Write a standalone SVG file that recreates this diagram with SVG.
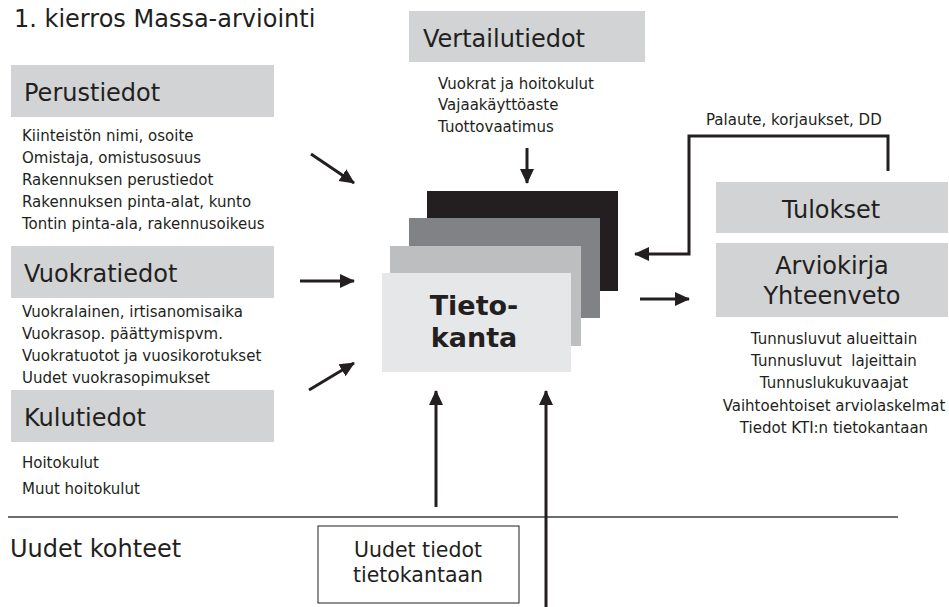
<svg xmlns="http://www.w3.org/2000/svg" width="949" height="607" viewBox="0 0 949 607">
<style>
text{font-family:"DejaVu Sans","Liberation Sans",sans-serif;fill:#231f20}
.h{font-size:24px}
.b{font-size:15px}
.hdr{fill:#d1d3d4}
.c{stroke:#231f20;stroke-width:3;fill:none}
</style>
<defs>
<marker id="ah" markerUnits="userSpaceOnUse" markerWidth="16" markerHeight="16" viewBox="0 0 16 16" refX="14" refY="8" orient="auto">
<path d="M0,1 L15,8 L0,15 Z" fill="#231f20"/>
</marker>
</defs>
<rect width="949" height="607" fill="#fff"/>
<text x="14" y="27" style="font-size:24px">1. kierros Massa-arviointi</text>

<g id="perustiedot">
<rect class="hdr" x="11" y="65" width="263" height="52"/>
<text class="h" x="24" y="101">Perustiedot</text>
<text class="b" x="22" y="141">Kiinteistön nimi, osoite</text>
<text class="b" x="22" y="163">Omistaja, omistusosuus</text>
<text class="b" x="22" y="185">Rakennuksen perustiedot</text>
<text class="b" x="22" y="207">Rakennuksen pinta-alat, kunto</text>
<text class="b" x="22" y="229">Tontin pinta-ala, rakennusoikeus</text>
</g>

<g id="vuokratiedot">
<rect class="hdr" x="11" y="246" width="263" height="52"/>
<text class="h" x="24" y="282">Vuokratiedot</text>
<text class="b" x="22" y="317">Vuokralainen, irtisanomisaika</text>
<text class="b" x="22" y="339">Vuokrasop. päättymispvm.</text>
<text class="b" x="22" y="361">Vuokratuotot ja vuosikorotukset</text>
<text class="b" x="22" y="383">Uudet vuokrasopimukset</text>
</g>

<g id="kulutiedot">
<rect class="hdr" x="11" y="390" width="263" height="52"/>
<text class="h" x="24" y="426">Kulutiedot</text>
<text class="b" x="22" y="468">Hoitokulut</text>
<text class="b" x="22" y="494">Muut hoitokulut</text>
</g>

<g id="vertailutiedot">
<rect class="hdr" x="409" y="11" width="236" height="51"/>
<text class="h" x="423" y="47">Vertailutiedot</text>
<text class="b" x="438" y="89">Vuokrat ja hoitokulut</text>
<text class="b" x="438" y="110">Vajaakäyttöaste</text>
<text class="b" x="438" y="132">Tuottovaatimus</text>
</g>

<g id="tietokanta">
<rect x="427" y="191" width="191" height="100" fill="#231f20"/>
<rect x="409" y="218" width="191" height="100" fill="#808285"/>
<rect x="390" y="246" width="191" height="100" fill="#bcbec0"/>
<rect x="382" y="273" width="189" height="99" fill="#e6e7e8"/>
<text x="474" y="315" text-anchor="middle" style="font-size:27px;font-weight:bold">Tieto-</text>
<text x="474" y="347" text-anchor="middle" style="font-size:27px;font-weight:bold">kanta</text>
</g>

<g id="tulokset">
<rect class="hdr" x="716" y="182" width="232" height="51"/>
<text class="h" x="831" y="218" text-anchor="middle">Tulokset</text>
</g>

<g id="arviokirja">
<rect class="hdr" x="716" y="243" width="232" height="74"/>
<text class="h" x="832" y="274" text-anchor="middle">Arviokirja</text>
<text class="h" x="832" y="304" text-anchor="middle">Yhteenveto</text>
<text class="b" x="834" y="344" text-anchor="middle">Tunnusluvut alueittain</text>
<text class="b" x="834" y="366" text-anchor="middle" xml:space="preserve">Tunnusluvut  lajeittain</text>
<text class="b" x="834" y="388" text-anchor="middle">Tunnuslukukuvaajat</text>
<text class="b" x="834" y="411" text-anchor="middle">Vaihtoehtoiset arviolaskelmat</text>
<text class="b" x="834" y="433" text-anchor="middle">Tiedot KTI:n tietokantaan</text>
</g>

<g id="uudet-kohteet">
<text x="10" y="557" style="font-size:24px">Uudet kohteet</text>
</g>

<g id="uudet-tiedot">
<rect x="318" y="526" width="201" height="77" fill="#fff" stroke="#231f20" stroke-width="1"/>
<text x="418" y="557" text-anchor="middle" style="font-size:20.5px">Uudet tiedot</text>
<text x="418" y="582" text-anchor="middle" style="font-size:20.5px">tietokantaan</text>
</g>

<g id="connectors">
<line x1="8" y1="517" x2="898" y2="517" stroke="#6d6e71" stroke-width="2"/>
<line class="c" x1="311" y1="154" x2="354" y2="183" marker-end="url(#ah)"/>
<line class="c" x1="300" y1="281" x2="354" y2="281" marker-end="url(#ah)"/>
<line class="c" x1="309" y1="390" x2="354" y2="363" marker-end="url(#ah)"/>
<line class="c" x1="527" y1="148" x2="527" y2="183" marker-end="url(#ah)"/>
<line class="c" x1="436" y1="507" x2="436" y2="391" marker-end="url(#ah)"/>
<line class="c" x1="546" y1="607" x2="546" y2="391" marker-end="url(#ah)"/>
<line class="c" x1="640" y1="299" x2="689" y2="299" marker-end="url(#ah)"/>
<path class="c" d="M888,171 V136 H689 V254 H635" marker-end="url(#ah)"/>
<text class="b" x="706" y="125">Palaute, korjaukset, DD</text>
</g>
</svg>
